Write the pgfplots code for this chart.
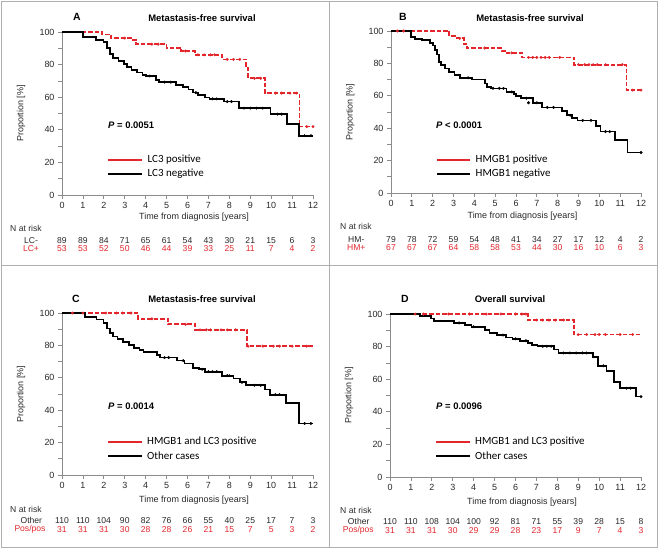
\documentclass[border=0pt]{standalone}
\usepackage{pgfplots}
\pgfplotsset{compat=1.18}
\usepackage{fontspec}
\setmainfont{Liberation Sans}
\newfontfamily\carlito{Carlito}
\definecolor{kmred}{RGB}{226,38,44}
\definecolor{axgray}{RGB}{140,140,140}
\definecolor{framegray}{RGB}{175,175,175}
\definecolor{txt}{RGB}{40,40,40}

\pgfplotsset{
  km/.style={
    scale only axis, anchor=south west, clip=false,
    xmin=0, xmax=12, ymin=0, ymax=100,
    axis lines*=left,
    axis line style={draw=axgray, line width=0.8bp},
    every tick/.style={draw=axgray, line width=0.8bp},
    tick align=outside,
    major tick length=4bp, minor tick length=4bp,
    xtick={0,...,12}, ytick={0,20,...,100}, minor ytick={10,30,...,90},
    ticklabel style={font=\fontsize{9}{9}\selectfont, text=txt},
    /pgf/number format/assume math mode=true,
    xlabel={Time from diagnosis [years]},
    ylabel={Proportion [\%]},
    label style={font=\fontsize{9}{9}\selectfont, text=txt},
    ylabel style={at={(axis description cs:-0.163,0.5)}, anchor=center},
  },
  kmb/.style={black, line width=1.7bp, const plot mark left},
  kmr/.style={kmred, line width=1.7bp, dash pattern=on 4.5bp off 2bp, const plot mark left},
  cb/.style={only marks, mark=*, mark size=1.25bp, black},
  cr/.style={only marks, mark=*, mark size=1.25bp, kmred},
}
\tikzset{
  risk/.style={font=\fontsize{8.6}{8.6}\selectfont, text=txt, inner sep=0pt, anchor=center},
  riskr/.style={font=\fontsize{8.6}{8.6}\selectfont, text=kmred, inner sep=0pt, anchor=center},
  ttl/.style={font=\bfseries\fontsize{9.5}{9.5}\selectfont, inner sep=0pt, anchor=center},
  lett/.style={font=\bfseries\fontsize{10.5}{10.5}\selectfont, inner sep=0pt, anchor=center},
  pval/.style={font=\bfseries\fontsize{9.5}{9.5}\selectfont, inner sep=0pt, anchor=west},
  leg/.style={font=\carlito\fontsize{11}{11}\selectfont, inner sep=0pt, anchor=west},
  legr/.style={kmred, line width=1.8bp},
  legb/.style={black, line width=1.8bp},
}
\newcommand\riskrow[5]{\foreach \n [count=\i from 0] in {#4} \node[#5] at ({#1bp+#2bp*\i},-#3bp) {\n};}

\begin{document}
\begin{tikzpicture}
\path[use as bounding box] (0,0) rectangle (658bp,-548bp);
\draw[framegray, line width=1bp] (1bp,-1bp) rectangle (657bp,-547bp);
\draw[framegray, line width=1bp] (329bp,-1bp) -- (329bp,-547bp);
\draw[framegray, line width=1bp] (1bp,-265bp) -- (657bp,-265bp);

% ---------------- Panel A
\begin{axis}[km, at={(62bp,-195bp)}, width=251bp, height=163bp,
  xlabel style={at={(axis description cs:0.526,0)}, anchor=center, yshift=-22.5bp}]
\addplot[kmr] coordinates {(0,100)(1.9,98.5)(2.35,96.2)(3.3,95)(3.55,92.5)(5.0,90.3)(5.7,88.3)(6.35,86)(7.65,83.2)(8.8,78)(8.9,71.6)(9.7,62.5)(11.35,42)(12,42)};
\addplot[kmb] coordinates {(0,100)(1.02,96.8)(1.64,95.2)(1.98,94)(2.15,90)(2.3,86.5)(2.45,84)(2.7,82)(2.95,80.2)(3.1,78.6)(3.32,76.7)(3.6,75.2)(3.85,73.8)(4.0,73)(4.5,70.7)(4.65,69.2)(5.45,67.6)(5.8,66.3)(6.05,64.8)(6.25,62.8)(6.5,61.4)(6.85,59.8)(7.05,59)(7.75,57.3)(8.45,53.3)(9.97,49.6)(10.75,43.5)(11.33,36.4)(12,36.4)};
\addplot[cb] coordinates {(4.2,73)(4.9,69.2)(5.2,69.2)(6.4,62.8)(7.2,59)(7.4,59)(7.9,57.3)(8.1,57.3)(8.7,53.3)(9.0,53.3)(9.3,53.3)(9.6,53.3)(10.3,49.6)(10.5,49.6)(11.6,36.4)(11.9,36.4)};
\addplot[cr] coordinates {(3.0,96.2)(4.3,92.5)(4.6,92.5)(5.9,88.3)(6.5,86)(6.8,86)(7.1,86)(7.3,86)(7.9,83.2)(8.2,83.2)(8.5,83.2)(9.2,71.6)(9.5,71.6)(10.2,62.5)(10.5,62.5)(10.9,62.5)(11.2,62.5)(11.7,42)(12,42)};
\end{axis}

% ---------------- Panel B
\begin{axis}[km, at={(391bp,-193bp)}, width=250bp, height=162bp,
  xlabel style={at={(axis description cs:0.526,0)}, anchor=center, yshift=-23.5bp}]
\addplot[kmr] coordinates {(0,100)(2.8,97)(3.15,95.5)(3.5,92)(3.65,89.5)(5.3,87.8)(5.5,86.5)(6.3,83.7)(8.8,79.2)(11.3,63.5)(12,63.5)};
\addplot[kmb] coordinates {(0,100)(0.97,96.5)(1.15,95)(1.5,94.4)(1.86,92.5)(2.0,91)(2.1,88.2)(2.2,85.5)(2.3,81)(2.4,79.2)(2.6,76.8)(2.8,74.8)(3.05,72.8)(3.3,71.1)(3.9,70)(4.5,67.6)(4.62,65.5)(4.8,64.6)(5.55,62.4)(5.9,61)(6.0,59.8)(6.25,58.5)(6.8,55.7)(7.25,52.8)(8.2,50.8)(8.45,48)(8.7,46.3)(8.95,44.8)(9.85,41.2)(10.05,37.9)(10.75,32.6)(11.35,25)(12,25)};
\addplot[cb] coordinates {(3.7,71.1)(4.9,64.6)(5.2,64.6)(5.4,64.6)(5.8,62.4)(6.5,58.5)(6.6,55.7)(7.0,55.7)(7.5,52.8)(7.8,52.8)(8.6,48)(9.2,44.8)(9.6,44.8)(10.3,37.9)(10.5,37.9)(12,25)};
\addplot[cr] coordinates {(0.3,100)(0.6,100)(3.3,95.5)(4.5,89.5)(5.8,86.5)(6.6,83.7)(6.8,83.7)(7.0,83.7)(7.2,83.7)(7.4,83.7)(7.6,83.7)(8.1,83.7)(9.0,79.2)(9.3,79.2)(9.5,79.2)(9.7,79.2)(9.9,79.2)(10.3,79.2)(11.1,79.2)(11.6,63.5)(12,63.5)};
\end{axis}

% ---------------- Panel C
\begin{axis}[km, at={(62bp,-475bp)}, width=251bp, height=162bp,
  xlabel style={at={(axis description cs:0.526,0)}, anchor=center, yshift=-25bp}]
\addplot[kmr] coordinates {(0,100)(3.65,96.4)(5.08,93)(6.36,89.6)(8.83,79.5)(12,79.5)};
\addplot[kmb] coordinates {(0,100)(1.1,97.5)(1.65,96)(1.98,94)(2.15,90.5)(2.3,87.5)(2.45,85.5)(2.65,83.8)(2.9,82)(3.2,80.2)(3.45,78.5)(3.7,77)(3.9,76)(4.55,74)(4.7,72.5)(5.5,70.6)(5.85,68.8)(6.25,66.2)(6.55,65.3)(6.85,63.8)(7.65,61.3)(8.2,59.5)(8.5,57.2)(8.8,55.4)(9.7,52.7)(9.95,49.6)(10.72,44.3)(11.33,31.8)(12,31.8)};
\addplot[cb] coordinates {(4.9,72.5)(5.1,72.5)(5.8,70.6)(6.7,65.3)(7.0,63.8)(7.2,63.8)(7.4,63.8)(7.9,61.3)(8.0,61.3)(8.6,57.2)(9.2,55.4)(9.5,55.4)(10.2,49.6)(10.4,49.6)(11.6,31.8)(11.9,31.8)};
\addplot[cr] coordinates {(0.5,100)(1.0,100)(2.1,100)(2.6,100)(2.9,100)(3.3,100)(4.3,96.4)(5.9,93)(6.6,89.6)(6.9,89.6)(7.1,89.6)(7.6,89.6)(7.9,89.6)(8.3,89.6)(8.9,79.5)(9.6,79.5)(10.1,79.5)(10.4,79.5)(11.0,79.5)(11.7,79.5)};
\end{axis}

% ---------------- Panel D
\begin{axis}[km, at={(390bp,-477bp)}, width=251bp, height=163bp,
  xlabel style={at={(axis description cs:0.526,0)}, anchor=center, yshift=-25bp}]
\addplot[kmr] coordinates {(0,100)(6.6,96.3)(8.8,87.4)(12,87.4)};
\addplot[kmb] coordinates {(0,100)(1.45,98.6)(1.95,97.3)(2.1,95.6)(3.05,94.5)(3.6,93.2)(3.9,92.2)(4.55,90)(4.75,88.4)(5.1,87.1)(5.55,85.6)(5.85,84.8)(6.2,83.6)(6.6,82.3)(6.8,81)(7.05,80.2)(7.85,78.2)(8.05,76.1)(9.7,73.6)(9.95,68.2)(10.35,65)(10.72,58.5)(10.98,54.5)(11.75,49.3)(12,49.3)};
\addplot[cb] coordinates {(3.3,94.5)(4.0,92.2)(5.4,87.1)(6.0,84.8)(6.5,83.6)(7.3,80.2)(7.5,80.2)(7.7,80.2)(8.3,76.1)(8.6,76.1)(8.9,76.1)(9.2,76.1)(9.4,76.1)(10.2,68.2)(11.3,54.5)(11.5,54.5)(12,49.3)};
\addplot[cr] coordinates {(1.2,100)(1.6,100)(2.8,100)(3.8,100)(4.6,100)(5.3,100)(6.0,100)(6.3,100)(6.5,100)(7.0,96.3)(7.3,96.3)(7.6,96.3)(7.9,96.3)(8.3,96.3)(9.0,87.4)(9.4,87.4)(9.8,87.4)(10.0,87.4)(10.3,87.4)(11.0,87.4)(11.6,87.4)};
\end{axis}

% ---------------- titles
\node[lett] at (77bp,-17bp) {A};
\node[ttl] at (202bp,-18bp) {Metastasis-free survival};
\node[lett] at (403bp,-17bp) {B};
\node[ttl] at (530bp,-18bp) {Metastasis-free survival};
\node[lett] at (76bp,-299bp) {C};
\node[ttl] at (202bp,-299bp) {Metastasis-free survival};
\node[lett] at (405bp,-299bp) {D};
\node[ttl] at (510bp,-299bp) {Overall survival};

% ---------------- P values
\node[pval] at (108bp,-125bp) {\itshape P\upshape\ = 0.0051};
\node[pval] at (436bp,-125bp) {\itshape P\upshape\ < 0.0001};
\node[pval] at (108bp,-406bp) {\itshape P\upshape\ = 0.0014};
\node[pval] at (436bp,-406bp) {\itshape P\upshape\ = 0.0096};

% ---------------- legends
\draw[legr] (108bp,-160bp) -- (142bp,-160bp);
\draw[legb] (108bp,-174bp) -- (142bp,-174bp);
\node[leg] at (147.5bp,-160bp) {LC3 positive};
\node[leg] at (147.5bp,-174bp) {LC3 negative};
\draw[legr] (437bp,-160bp) -- (470bp,-160bp);
\draw[legb] (437bp,-174bp) -- (470bp,-174bp);
\node[leg] at (475.5bp,-160bp) {HMGB1 positive};
\node[leg] at (475.5bp,-174bp) {HMGB1 negative};
\draw[legr] (108bp,-442bp) -- (142bp,-442bp);
\draw[legb] (108bp,-456bp) -- (142bp,-456bp);
\node[leg] at (147bp,-442bp) {HMGB1 and LC3 positive};
\node[leg] at (147bp,-456bp) {Other cases};
\draw[legr] (436bp,-442bp) -- (470bp,-442bp);
\draw[legb] (436bp,-456bp) -- (470bp,-456bp);
\node[leg] at (475bp,-442bp) {HMGB1 and LC3 positive};
\node[leg] at (475bp,-456bp) {Other cases};

% ---------------- numbers at risk
\node[risk, anchor=west] at (10bp,-228bp) {N at risk};
\node[risk] at (31bp,-240.5bp) {LC-};
\node[riskr] at (31bp,-248.7bp) {LC+};
\riskrow{62}{20.917}{240.5}{89,89,84,71,65,61,54,43,30,21,15,6,3}{risk}
\riskrow{62}{20.917}{248.7}{53,53,52,50,46,44,39,33,25,11,7,4,2}{riskr}

\node[risk, anchor=west] at (340bp,-226.7bp) {N at risk};
\node[risk] at (356.3bp,-239.2bp) {HM-};
\node[riskr] at (356.3bp,-247.8bp) {HM+};
\riskrow{391}{20.833}{239.2}{79,78,72,59,54,48,41,34,27,17,12,4,2}{risk}
\riskrow{391}{20.833}{247.8}{67,67,67,64,58,58,53,44,30,16,10,6,3}{riskr}

\node[risk, anchor=west] at (10bp,-509bp) {N at risk};
\node[risk] at (31.3bp,-520.3bp) {Other};
\node[riskr] at (30bp,-529.3bp) {Pos/pos};
\riskrow{62}{20.917}{520.3}{110,110,104,90,82,76,66,55,40,25,17,7,3}{risk}
\riskrow{62}{20.917}{529.3}{31,31,31,30,28,28,26,21,15,7,5,3,2}{riskr}

\node[risk, anchor=west] at (340bp,-510bp) {N at risk};
\node[risk] at (358.7bp,-521.3bp) {Other};
\node[riskr] at (358.3bp,-530.3bp) {Pos/pos};
\riskrow{390}{20.917}{521.3}{110,110,108,104,100,92,81,71,55,39,28,15,8}{risk}
\riskrow{390}{20.917}{530.3}{31,31,31,30,29,29,28,23,17,9,7,4,3}{riskr}
\end{tikzpicture}
\end{document}
